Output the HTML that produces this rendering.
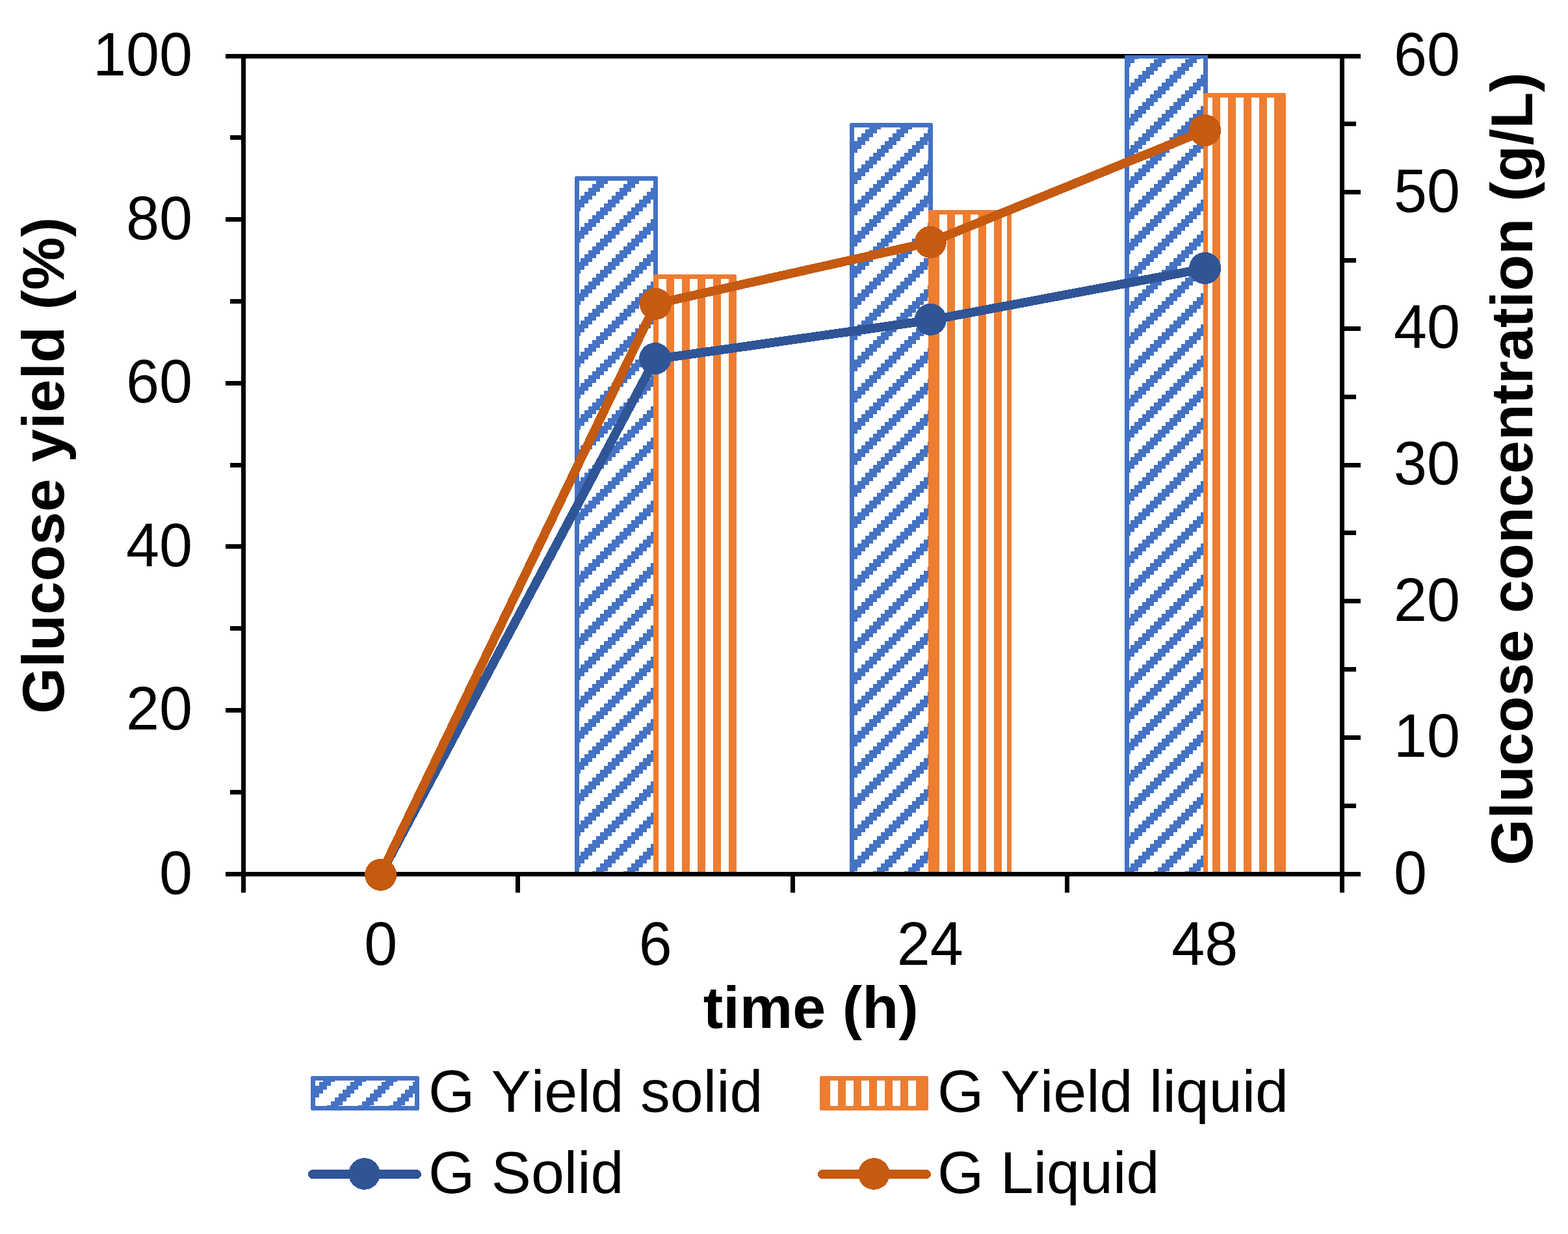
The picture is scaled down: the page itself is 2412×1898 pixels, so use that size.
<!DOCTYPE html>
<html lang="en"><head><meta charset="utf-8">
<title>Glucose yield and concentration over time</title>
<style>
html,body{margin:0;padding:0;background:#fff;}
body{width:2412px;height:1898px;}
svg{display:block;}
text{font-family:"Liberation Sans", sans-serif;font-size:91.67px;fill:#000;font-kerning:none;}
.b{font-weight:bold;}
.ax{stroke:#000;stroke-width:7;fill:none;stroke-linecap:butt;shape-rendering:crispEdges;}
</style></head><body>
<svg width="2412" height="1898" viewBox="0 0 2412 1898" role="img" aria-label="Glucose yield and glucose concentration versus time">
<defs>
<pattern id="pb" patternUnits="userSpaceOnUse" x="5" y="1" width="48" height="48">
<rect width="48" height="48" fill="#fff"/>
<g fill="#4472C4" shape-rendering="crispEdges">
<rect x="0" y="0" width="6" height="6"/>
<rect x="36" y="0" width="12" height="6"/>
<rect x="30" y="6" width="18" height="6"/>
<rect x="24" y="12" width="18" height="6"/>
<rect x="18" y="18" width="18" height="6"/>
<rect x="12" y="24" width="18" height="6"/>
<rect x="6" y="30" width="18" height="6"/>
<rect x="0" y="36" width="18" height="6"/>
<rect x="0" y="42" width="12" height="6"/>
<rect x="42" y="42" width="6" height="6"/>
</g></pattern>
<pattern id="pb2" patternUnits="userSpaceOnUse" x="5" y="2" width="48" height="48">
<rect width="48" height="48" fill="#fff"/>
<g fill="#4472C4" shape-rendering="crispEdges">
<rect x="0" y="0" width="6" height="6"/>
<rect x="36" y="0" width="12" height="6"/>
<rect x="30" y="6" width="18" height="6"/>
<rect x="24" y="12" width="18" height="6"/>
<rect x="18" y="18" width="18" height="6"/>
<rect x="12" y="24" width="18" height="6"/>
<rect x="6" y="30" width="18" height="6"/>
<rect x="0" y="36" width="18" height="6"/>
<rect x="0" y="42" width="12" height="6"/>
<rect x="42" y="42" width="6" height="6"/>
</g></pattern>
<pattern id="po" patternUnits="userSpaceOnUse" x="5" y="1" width="24" height="48">
<rect width="24" height="48" fill="#fff"/>
<rect x="12" y="0" width="12" height="48" fill="#ED7D31" shape-rendering="crispEdges"/>
</pattern>
<clipPath id="cp"><rect x="334.5" y="85" width="1770.0" height="1299.5"/></clipPath>
</defs>
<rect width="2412" height="1898" fill="#fff"/>
<rect x="347" y="83" width="1746" height="7" fill="#000" shape-rendering="crispEdges"/>
<g>
<path d="M884 1342 V273.5 Q884 271 886.5 271 H1009.5 Q1012 271 1012 273.5 V1342 Z" fill="#4472C4"/>
<rect x="891" y="278" width="114" height="455" fill="url(#pb)" shape-rendering="crispEdges"/>
<rect x="891" y="733" width="114" height="609" fill="url(#pb2)" shape-rendering="crispEdges"/>
<path d="M1307 1342 V191.5 Q1307 189 1309.5 189 H1432.5 Q1435 189 1435 191.5 V1342 Z" fill="#4472C4"/>
<rect x="1314" y="196" width="114" height="537" fill="url(#pb)" shape-rendering="crispEdges"/>
<rect x="1314" y="733" width="114" height="609" fill="url(#pb2)" shape-rendering="crispEdges"/>
<rect x="1730" y="85" width="128" height="1257" fill="#4472C4"/>
<rect x="1737" y="90" width="114" height="643" fill="url(#pb)" shape-rendering="crispEdges"/>
<rect x="1737" y="733" width="114" height="609" fill="url(#pb2)" shape-rendering="crispEdges"/>
<path d="M1005 1342 V424.5 Q1005 422 1007.5 422 H1130.5 Q1133 422 1133 424.5 V1342 Z" fill="#ED7D31"/>
<rect x="1012" y="429" width="114" height="913" fill="url(#po)" shape-rendering="crispEdges"/>
<path d="M1428 1342 V325.5 Q1428 323 1430.5 323 H1553.5 Q1556 323 1556 325.5 V1342 Z" fill="#ED7D31"/>
<rect x="1435" y="330" width="114" height="1012" fill="url(#po)" shape-rendering="crispEdges"/>
<path d="M1851 1342 V145.5 Q1851 143 1853.5 143 H1975.5 Q1978 143 1978 145.5 V1342 Z" fill="#ED7D31"/>
<rect x="1858" y="150" width="113" height="1192" fill="url(#po)" shape-rendering="crispEdges"/>
<rect x="1960" y="150" width="2" height="1192" fill="#ED7D31"/>
</g>
<g fill="#000" shape-rendering="crispEdges">
<rect x="347" y="1341" width="1746" height="7"/>
<rect x="371" y="83" width="7" height="1290"/>
<rect x="2061" y="83" width="7" height="1290"/>
<rect x="793" y="1341" width="7" height="32"/>
<rect x="1216" y="1341" width="7" height="32"/>
<rect x="1638" y="1341" width="7" height="32"/>
<rect x="354" y="1215" width="17" height="7"/>
<rect x="347" y="1089" width="24" height="7"/>
<rect x="354" y="963" width="17" height="7"/>
<rect x="347" y="837" width="24" height="7"/>
<rect x="354" y="712" width="17" height="7"/>
<rect x="347" y="586" width="24" height="7"/>
<rect x="354" y="460" width="17" height="7"/>
<rect x="347" y="334" width="24" height="7"/>
<rect x="354" y="208" width="17" height="7"/>
<rect x="2068" y="1236" width="18" height="7"/>
<rect x="2068" y="1131" width="25" height="7"/>
<rect x="2068" y="1026" width="18" height="7"/>
<rect x="2068" y="921" width="25" height="7"/>
<rect x="2068" y="816" width="18" height="7"/>
<rect x="2068" y="712" width="25" height="7"/>
<rect x="2068" y="607" width="18" height="7"/>
<rect x="2068" y="502" width="25" height="7"/>
<rect x="2068" y="397" width="18" height="7"/>
<rect x="2068" y="292" width="25" height="7"/>
<rect x="2068" y="187" width="18" height="7"/>
</g>
<polyline points="585.6,1345.0 1007.8,552.5 1431.4,492.4 1853.6,413.0" fill="none" stroke="#2F5597" stroke-width="13.8" stroke-linejoin="round" stroke-linecap="round" shape-rendering="crispEdges"/>
<circle cx="585.6" cy="1345.5" r="24.5" fill="#2F5597" shape-rendering="crispEdges"/>
<circle cx="1007.8" cy="551.5" r="24.5" fill="#2F5597" shape-rendering="crispEdges"/>
<circle cx="1431.4" cy="491.4" r="24.5" fill="#2F5597" shape-rendering="crispEdges"/>
<circle cx="1853.6" cy="412.5" r="24.5" fill="#2F5597" shape-rendering="crispEdges"/>
<polyline points="585.6,1345.0 1008.4,467.4 1431.4,372.5 1853.6,200.6" fill="none" stroke="#C55A11" stroke-width="13.8" stroke-linejoin="round" stroke-linecap="round" shape-rendering="crispEdges"/>
<circle cx="585.6" cy="1345.5" r="24.5" fill="#C55A11" shape-rendering="crispEdges"/>
<circle cx="1008.4" cy="467.4" r="24.5" fill="#C55A11" shape-rendering="crispEdges"/>
<circle cx="1431.4" cy="372.5" r="24.5" fill="#C55A11" shape-rendering="crispEdges"/>
<circle cx="1853.6" cy="200.6" r="24.5" fill="#C55A11" shape-rendering="crispEdges"/>
<text transform="translate(296 1374.6) scale(1 1.04)" text-anchor="end">0</text>
<text transform="translate(296 1122.4) scale(1 1.04)" text-anchor="end">20</text>
<text transform="translate(296 870.8) scale(1 1.04)" text-anchor="end">40</text>
<text transform="translate(296 619.2) scale(1 1.04)" text-anchor="end">60</text>
<text transform="translate(296 367.6) scale(1 1.04)" text-anchor="end">80</text>
<text transform="translate(296 116.0) scale(1 1.04)" text-anchor="end">100</text>
<text transform="translate(2144 1374.6) scale(1 1.04)">0</text>
<text transform="translate(2144 1164.33) scale(1 1.04)">10</text>
<text transform="translate(2144 954.67) scale(1 1.04)">20</text>
<text transform="translate(2144 745.0) scale(1 1.04)">30</text>
<text transform="translate(2144 535.33) scale(1 1.04)">40</text>
<text transform="translate(2144 325.67) scale(1 1.04)">50</text>
<text transform="translate(2144 116.0) scale(1 1.04)">60</text>
<text transform="translate(585.75 1484) scale(1 1.04)" text-anchor="middle">0</text>
<text transform="translate(1008.25 1484) scale(1 1.04)" text-anchor="middle">6</text>
<text transform="translate(1430.75 1484) scale(1 1.04)" text-anchor="middle">24</text>
<text transform="translate(1853.25 1484) scale(1 1.04)" text-anchor="middle">48</text>
<text class="b" x="1247.3" y="1581" text-anchor="middle">time (h)</text>
<text class="b" transform="translate(98 716) rotate(-90)" text-anchor="middle">Glucose yield (%)</text>
<text class="b" transform="translate(2356.6 721) rotate(-90)" text-anchor="middle" style="letter-spacing:0.1px">Glucose concentration (g/L)</text>
<rect x="478" y="1655" width="167" height="53" rx="2.5" fill="#4472C4"/>
<rect x="485" y="1662" width="153" height="39" fill="url(#pb2)" shape-rendering="crispEdges"/>
<rect x="1261" y="1655" width="167" height="53" rx="2.5" fill="#ED7D31"/>
<rect x="1268" y="1662" width="153" height="39" fill="url(#po)" shape-rendering="crispEdges"/>
<g stroke-width="14" stroke-linecap="round" shape-rendering="crispEdges">
<path d="M481 1806.1 H641" stroke="#2F5597"/>
<path d="M1265 1806.1 H1425" stroke="#C55A11"/>
</g>
<circle cx="560.5" cy="1805.5" r="24.3" fill="#2F5597" shape-rendering="crispEdges"/>
<circle cx="1344.4" cy="1805.5" r="24.3" fill="#C55A11" shape-rendering="crispEdges"/>
<text x="659" y="1709.7">G Yield solid</text>
<text x="1442" y="1709.7">G Yield liquid</text>
<text x="659" y="1834.5">G Solid</text>
<text x="1442" y="1834.5">G Liquid</text>
</svg>
</body></html>
